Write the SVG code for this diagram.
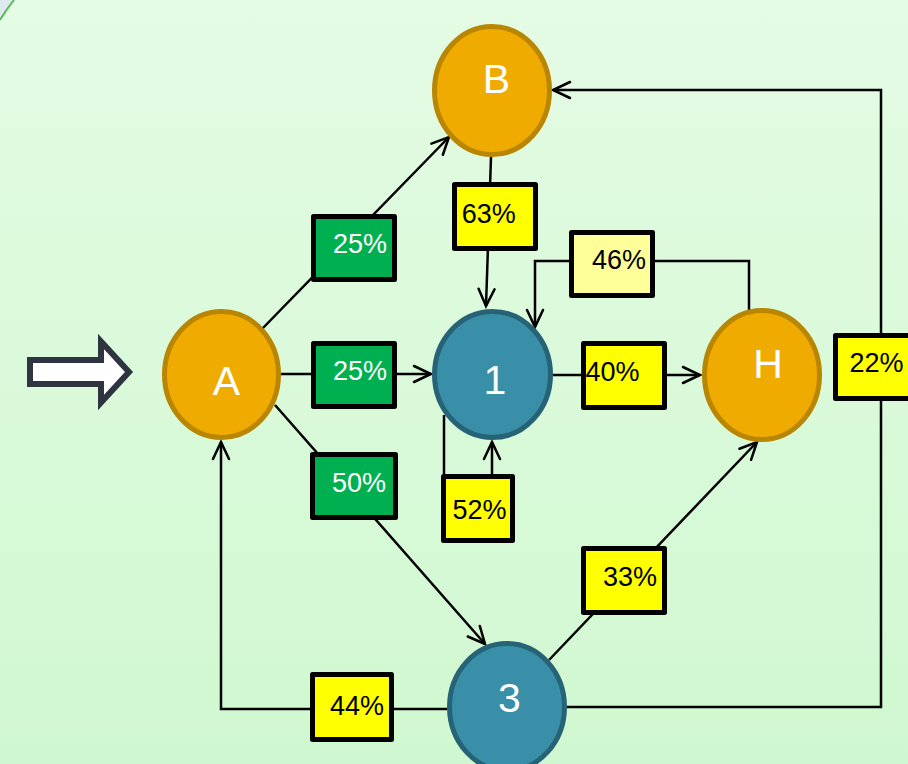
<svg xmlns="http://www.w3.org/2000/svg" width="908" height="764" viewBox="0 0 908 764">
<defs>
<linearGradient id="bg" x1="0" y1="0" x2="0" y2="1">
<stop offset="0" stop-color="#E4FBE4"/>
<stop offset="1" stop-color="#D0F8D0"/>
</linearGradient>
<marker id="arr" markerUnits="userSpaceOnUse" markerWidth="24" markerHeight="24" viewBox="-20 -12 24 24" refX="0" refY="0" orient="auto">
<path d="M-17,-8 L0,0 L-17,8" fill="none" stroke="#000" stroke-width="2.5" stroke-linecap="round" stroke-linejoin="miter"/>
</marker>
<style>
.ln{fill:none;stroke:#000;stroke-width:2.5;}
.orange{fill:#F0AB00;stroke:#B88600;stroke-width:5;}
.teal{fill:#398FA7;stroke:#276377;stroke-width:5;}
.box{stroke:#000;stroke-width:5;stroke-linejoin:round;}
.g{fill:#00B050;}
.y{fill:#FFFF00;}
.ly{fill:#FFFF99;}
.nt{font-family:"Liberation Sans",Arial,sans-serif;font-size:41px;fill:#fff;text-anchor:middle;}
.pw{font-family:"Liberation Sans",Arial,sans-serif;font-size:27px;fill:#fff;text-anchor:middle;}
.pk{font-family:"Liberation Sans",Arial,sans-serif;font-size:27px;fill:#000;text-anchor:middle;}
</style>
</defs>
<rect x="0" y="0" width="908" height="764" fill="url(#bg)"/>
<path d="M0,0 L14,0 Q6,10 0,20 Z" fill="#DDEBEE"/>
<path d="M14,0 Q6,10 0,20" fill="none" stroke="#5CB85C" stroke-width="2"/>

<g id="input-arrow">
<polygon points="30,360 101,360 101,341.5 129,372 101,402.5 101,384 30,384" fill="#fff" stroke="#2E3440" stroke-width="6" stroke-linejoin="miter"/>
</g>

<g id="connectors">
<line class="ln" x1="262" y1="329" x2="449" y2="137" marker-end="url(#arr)"/>
<line class="ln" x1="281" y1="374" x2="431" y2="374" marker-end="url(#arr)"/>
<line class="ln" x1="275" y1="405" x2="485" y2="644" marker-end="url(#arr)"/>
<polyline class="ln" points="447,709 221,709 221,442" marker-end="url(#arr)"/>
<line class="ln" x1="491" y1="157" x2="486" y2="306" marker-end="url(#arr)"/>
<polyline class="ln" points="749,310 749,261 535,261 535,327" marker-end="url(#arr)"/>
<line class="ln" x1="553" y1="375" x2="700" y2="375" marker-end="url(#arr)"/>
<polyline class="ln" points="444,415 444,478 492,478 492,442" marker-end="url(#arr)"/>
<line class="ln" x1="549" y1="660" x2="757" y2="442" marker-end="url(#arr)"/>
<polyline class="ln" points="567,707 881,707 881,90 553,90" marker-end="url(#arr)"/>
</g>

<g id="node-A">
<ellipse class="orange" cx="221.5" cy="374.5" rx="57" ry="63"/>
<text class="nt" x="226.5" y="395">A</text>
</g>
<g id="node-B">
<ellipse class="orange" cx="492" cy="90.5" rx="57.5" ry="64"/>
<text class="nt" x="496.5" y="93">B</text>
</g>
<g id="node-1">
<ellipse class="teal" cx="492.5" cy="374.5" rx="58" ry="63"/>
<text class="nt" x="495" y="394">1</text>
</g>
<g id="node-H">
<ellipse class="orange" cx="762" cy="375" rx="57.5" ry="64.5"/>
<text class="nt" x="768" y="378">H</text>
</g>
<g id="node-3">
<ellipse class="teal" cx="507" cy="707" rx="57.5" ry="63.5"/>
<text class="nt" x="509.5" y="712">3</text>
</g>

<g id="label-25a">
<rect class="box g" x="313.5" y="216.5" width="81" height="63"/>
<text class="pw" x="360" y="253">25%</text>
</g>
<g id="label-25b">
<rect class="box g" x="313.5" y="343.5" width="81" height="63"/>
<text class="pw" x="360" y="380">25%</text>
</g>
<g id="label-50">
<rect class="box g" x="312.5" y="454.5" width="83" height="63"/>
<text class="pw" x="359" y="491.5">50%</text>
</g>
<g id="label-44">
<rect class="box y" x="312.5" y="674.5" width="79" height="65"/>
<text class="pk" x="357" y="715">44%</text>
</g>
<g id="label-63">
<rect class="box y" x="454.5" y="184.5" width="81" height="64"/>
<text class="pk" x="488.7" y="222.7">63%</text>
</g>
<g id="label-46">
<rect class="box ly" x="571.5" y="232.5" width="81" height="63"/>
<text class="pk" x="619" y="269">46%</text>
</g>
<g id="label-52">
<rect class="box y" x="443.5" y="476.5" width="69" height="64"/>
<text class="pk" x="479.5" y="519">52%</text>
</g>
<g id="label-40">
<rect class="box y" x="583.5" y="343.5" width="81" height="64"/>
<text class="pk" x="612.5" y="381">40%</text>
</g>
<g id="label-33">
<rect class="box y" x="583.5" y="548.5" width="81" height="64"/>
<text class="pk" x="630" y="586">33%</text>
</g>
<g id="label-22">
<rect class="box y" x="835.5" y="335.5" width="80" height="63"/>
<text class="pk" x="876.5" y="371.7">22%</text>
</g>
</svg>
